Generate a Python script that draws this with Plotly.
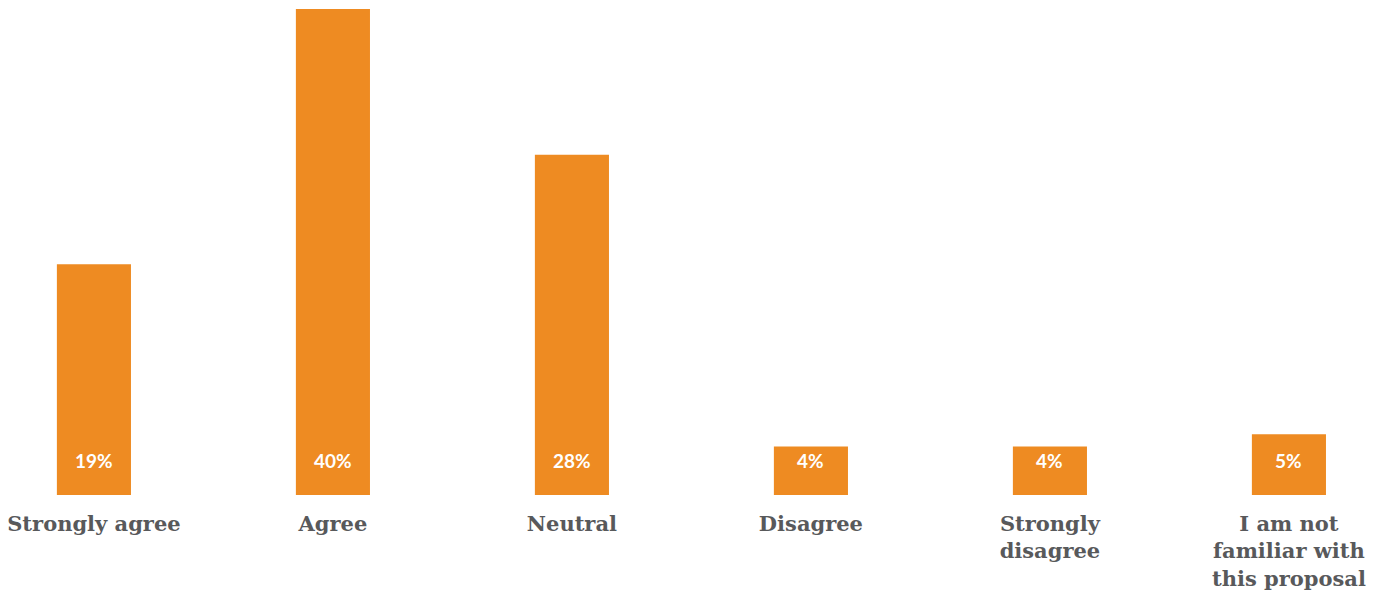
import plotly.graph_objects as go

# Survey responses and their shares (%)
categories = [
    "Strongly agree",
    "Agree",
    "Neutral",
    "Disagree",
    "Strongly<br>disagree",
    "I am not<br>familiar with<br>this proposal",
]
shares = [19, 40, 28, 4, 4, 5]
value_labels = [f"{v}%" for v in shares]

ORANGE = "#EE8B22"
GREY = "#58595B"

fig = go.Figure(
    go.Bar(
        x=list(range(len(categories))),
        y=shares,
        width=0.31,
        marker=dict(color=ORANGE, line=dict(width=0)),
        hoverinfo="skip",
    )
)

# White percentage labels near the foot of each bar
for i, lab in enumerate(value_labels):
    fig.add_annotation(
        x=i, y=0, text=f"<b>{lab}</b>", showarrow=False,
        yanchor="middle", yshift=35,
        font=dict(family="Lato, Open Sans, sans-serif", size=19, color="white"),
    )

fig.update_layout(
    width=1385, height=597,
    margin=dict(l=0, r=0, t=9, b=102),
    paper_bgcolor="white", plot_bgcolor="white",
    showlegend=False,
    xaxis=dict(
        range=[-0.393, 5.402],
        tickmode="array",
        tickvals=list(range(len(categories))),
        ticktext=[f"<b>{c}</b>" for c in categories],
        tickfont=dict(family="DejaVu Serif, serif", size=21, color=GREY),
        ticklabelstandoff=14,
        showgrid=False, zeroline=False, showline=False, ticks="",
        ticklen=0,
    ),
    yaxis=dict(range=[0, 40], visible=False, showgrid=False, zeroline=False),
)

fig.write_html("out.html")
